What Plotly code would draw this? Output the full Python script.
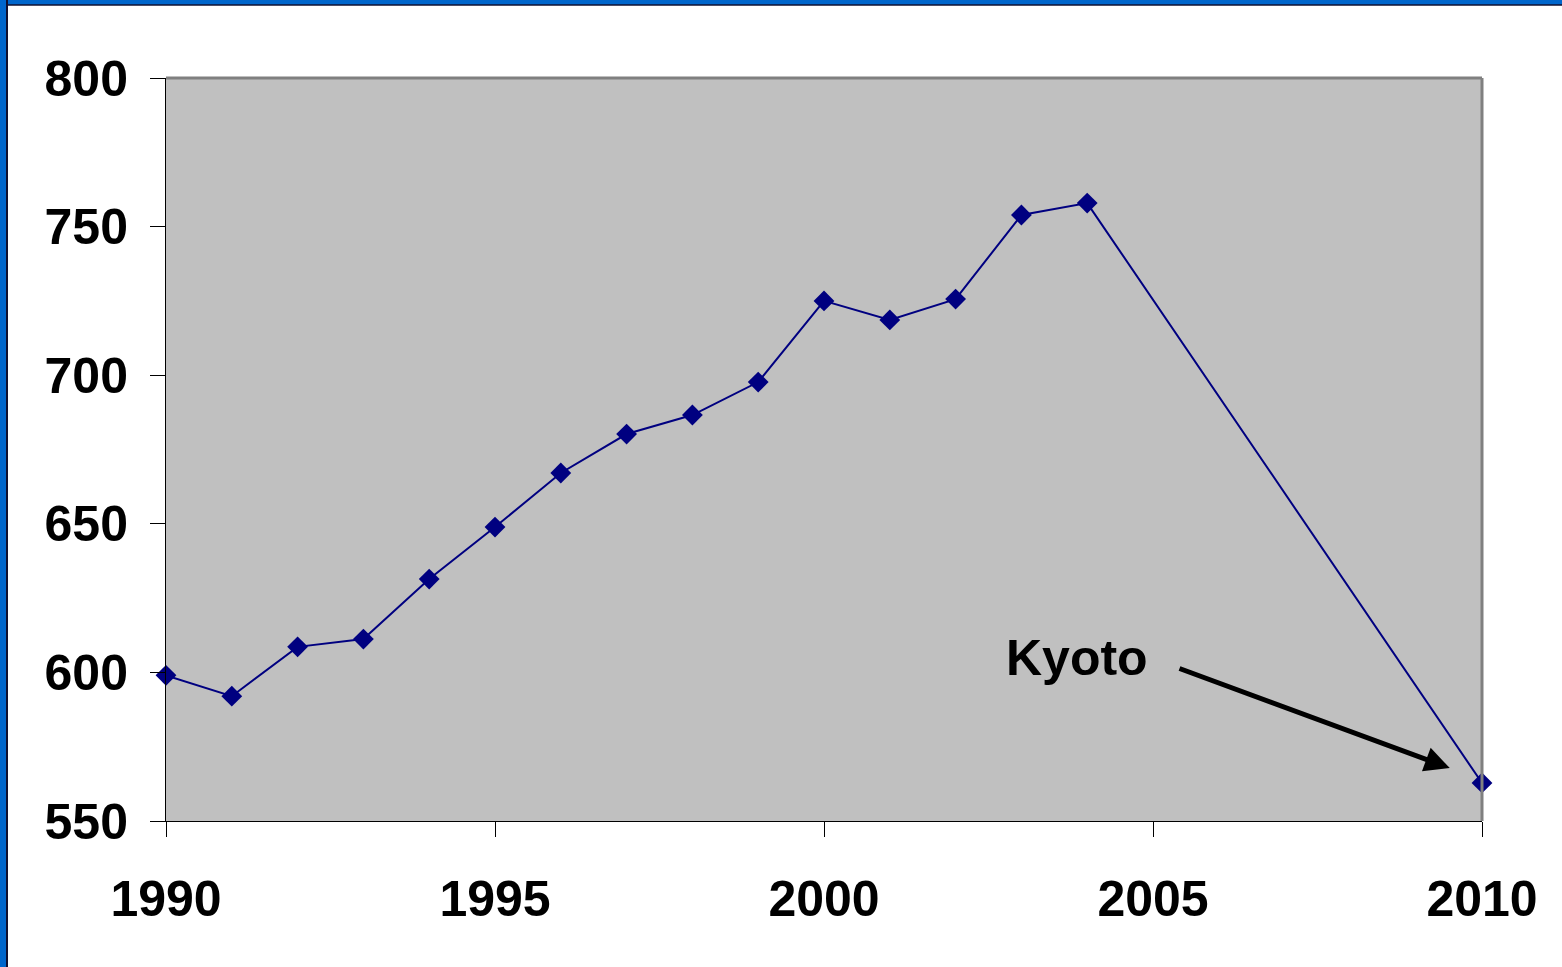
import plotly.graph_objects as go

# Emissions series
years = [1990, 1991, 1992, 1993, 1994, 1995, 1996, 1997, 1998, 1999,
         2000, 2001, 2002, 2003, 2004, 2010]
values = [599, 592, 608.6, 611.2, 631.4, 648.9, 667.1, 680.2, 686.6, 697.7,
          725.0, 718.6, 725.6, 753.9, 757.9, 562.8]

x_ticks = [1990, 1995, 2000, 2005, 2010]
y_ticks = [550, 600, 650, 700, 750, 800]

font = 'Liberation Sans, Arial, sans-serif'
blue = '#0066CC'

fig = go.Figure()
fig.add_trace(go.Scatter(
    x=years,
    y=values,
    mode='lines+markers',
    line=dict(color='#000080', width=2),
    marker=dict(symbol='diamond', size=16, color='#000080'),
    cliponaxis=False,
    showlegend=False,
))

fig.update_xaxes(
    range=[1990, 2010],
    tickvals=x_ticks,
    ticks='outside', ticklen=15, tickwidth=1, tickcolor='black',
    showline=True, linecolor='black', linewidth=1,
    showgrid=False, zeroline=False,
    ticklabelstandoff=19,
    tickfont=dict(family=font, size=50, color='black', weight='bold'),
)
fig.update_yaxes(
    range=[550, 800],
    tickvals=y_ticks,
    ticks='outside', ticklen=15, tickwidth=1, tickcolor='black',
    showline=True, linecolor='black', linewidth=1,
    showgrid=False, zeroline=False,
    ticklabelstandoff=12,
    tickfont=dict(family=font, size=50, color='black', weight='bold'),
)

# Kyoto arrow and label
fig.add_annotation(
    x=2009.51, y=567.8, xref='x', yref='y',
    ax=2005.38, ay=601.5, axref='x', ayref='y',
    text='', showarrow=True,
    arrowhead=2, arrowsize=1, arrowwidth=5, arrowcolor='black',
)
fig.add_annotation(
    x=2003.85, y=605, xref='x', yref='y',
    text='Kyoto', showarrow=False,
    font=dict(family=font, size=50, color='black', weight='bold'),
)

shapes = [
    # grey top and right frame of the plot area
    dict(type='line', xref='paper', yref='paper', x0=0, x1=1, y0=1, y1=1,
         line=dict(color='#808080', width=3)),
    dict(type='line', xref='paper', yref='paper', x0=1, x1=1, y0=0, y1=1,
         line=dict(color='#808080', width=3)),
    # blue slide border at top and left
    dict(type='rect', xref='paper', yref='paper', ysizemode='pixel', yanchor=1,
         x0=-0.2, x1=1.2, y0=73, y1=80, fillcolor=blue, line_width=0, layer='above'),
    dict(type='line', xref='paper', yref='paper', ysizemode='pixel', yanchor=1,
         x0=-0.2, x1=1.2, y0=73, y1=73, line=dict(color='#101030', width=1.5), layer='above'),
    dict(type='rect', xref='paper', yref='paper', xsizemode='pixel', xanchor=0,
         x0=-170, x1=-160, y0=-0.3, y1=1.2, fillcolor=blue, line_width=0, layer='above'),
    dict(type='line', xref='paper', yref='paper', xsizemode='pixel', xanchor=0,
         x0=-159, x1=-159, y0=-0.3, y1=1.11, line=dict(color='#101030', width=2), layer='above'),
]

fig.update_layout(
    width=1562,
    height=967,
    margin=dict(l=166, r=80, t=78, b=146),
    paper_bgcolor='white',
    plot_bgcolor='#C0C0C0',
    shapes=shapes,
)

# drop the default page margin so the figure sits flush with the window
fig.write_html("out.html", config={'displayModeBar': False},
               post_script="document.body.style.margin='0';")
